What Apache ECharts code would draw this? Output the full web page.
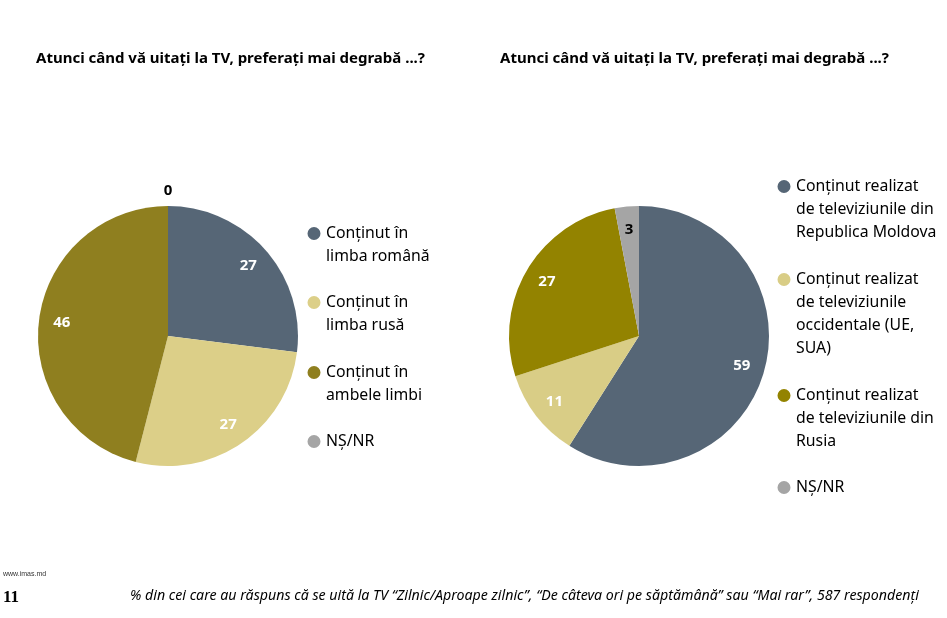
<!DOCTYPE html>
<html><head><meta charset="utf-8">
<script src="https://cdn.jsdelivr.net/npm/echarts@6/dist/echarts.min.js"></script>
<style>html,body{margin:0;padding:0;background:#fff}#c{width:947px;height:618px}</style>
</head><body><div id="c"></div>
<script>
// ---- data ----
const chartTitle = 'Atunci când vă uitați la TV, preferați mai degrabă ...?';
const leftCategories = ['Conținut în\nlimba română', 'Conținut în\nlimba rusă', 'Conținut în\nambele limbi', 'NȘ/NR'];
const leftValues = [27, 27, 46, 0];
const rightCategories = ['Conținut realizat\nde televiziunile din\nRepublica Moldova', 'Conținut realizat\nde televiziunile\noccidentale (UE,\nSUA)', 'Conținut realizat\nde televiziunile din\nRusia', 'NȘ/NR '];
const rightValues = [59, 11, 27, 3];
const siteText = 'www.imas.md';
const pageNumber = '11';
const footnote = '% din cei care au răspuns că se uită la TV “Zilnic/Aproape zilnic”, “De câteva ori pe săptămână” sau “Mai rar”, 587 respondenți';

// ---- styles ----
const leftColors = ['#566676', '#dccf88', '#8f7f1f', '#a5a5a5'];
const rightColors = ['#566676', '#d9cd86', '#938300', '#a5a5a5'];
const labelColors = ['#ffffff', '#ffffff', '#ffffff', '#000000'];
const FONT = 'Noto Sans';
const R = 130, CY = 336, LINE = 23;

function pieSeries(cats, vals, colors, cx) {
  const base = {
    type: 'pie', center: [cx, CY], startAngle: 90, clockwise: true,
    avoidLabelOverlap: false, silent: true, animation: false,
    labelLine: { show: false }
  };
  return [
    Object.assign({}, base, {
      radius: R,
      label: { show: false },
      data: cats.map((n, i) => ({ name: n, value: vals[i], itemStyle: { color: colors[i] } }))
    }),
    Object.assign({}, base, {
      radius: [R * 0.6, R],
      itemStyle: { color: 'rgba(0,0,0,0)' },
      label: { position: 'inside', formatter: '{c}', fontFamily: FONT, fontWeight: 'bold', fontSize: 15 },
      data: cats.map((n, i) => ({ name: n, value: vals[i],
        label: { show: vals[i] > 0, color: labelColors[i] } }))
    }),
    Object.assign({}, base, {
      radius: [R + 6, R + 18],
      itemStyle: { color: 'rgba(0,0,0,0)' },
      label: { position: 'inside', formatter: '{c}', fontFamily: FONT, fontWeight: 'bold', fontSize: 15, color: '#000' },
      data: cats.map((n, i) => ({ name: n, value: vals[i],
        label: { show: vals[i] === 0 } }))
    })
  ];
}

function iconFor(name) {
  const h = name.split('\n').length * LINE;
  return 'path://M0.5,11.5A6.5,6.5 0 1,1 13.5,11.5A6.5,6.5 0 1,1 0.5,11.5Z M0,0L0.01,0L0,0.01Z M14,' + h + 'L13.99,' + h + 'L14,' + (h - 0.01) + 'Z';
}

function legendsFor(cats, x, tops) {
  return cats.map((name, i) => ({
    left: x, top: tops[i], orient: 'vertical', padding: 0,
    selectedMode: false,
    itemWidth: 14, itemHeight: name.split('\n').length * LINE,
    data: [{ name: name, icon: iconFor(name) }],
    textStyle: { fontFamily: FONT, fontSize: 15.8, lineHeight: LINE, color: '#000' }
  }));
}

const chart = echarts.init(document.getElementById('c'), null, { renderer: 'canvas' });
chart.setOption({
  backgroundColor: '#ffffff',
  animation: false,
  title: [
    { text: chartTitle, left: 36, top: 51, padding: 0, textStyle: { fontFamily: FONT, fontWeight: 'bold', fontSize: 15, color: '#000' } },
    { text: chartTitle, left: 500, top: 51, padding: 0, textStyle: { fontFamily: FONT, fontWeight: 'bold', fontSize: 15, color: '#000' } },
    { text: siteText, left: 3, top: 571, padding: 0, textStyle: { fontFamily: 'Liberation Sans', fontWeight: 'normal', fontSize: 7, color: '#333' } },
    { text: pageNumber, left: 3, top: 589, padding: 0, textStyle: { fontFamily: 'Liberation Serif', fontWeight: 'bold', fontSize: 17, color: '#000' } },
    { text: footnote, left: 130, top: 589, padding: 0, textStyle: { fontFamily: FONT, fontStyle: 'italic', fontWeight: 'normal', fontSize: 14.2, color: '#000' } }
  ],
  legend: legendsFor(leftCategories, 307, [222, 291, 361, 430])
    .concat(legendsFor(rightCategories, 777, [175, 268, 384, 476])),
  series: pieSeries(leftCategories, leftValues, leftColors, 168)
    .concat(pieSeries(rightCategories, rightValues, rightColors, 639))
});
</script>
</body></html>
